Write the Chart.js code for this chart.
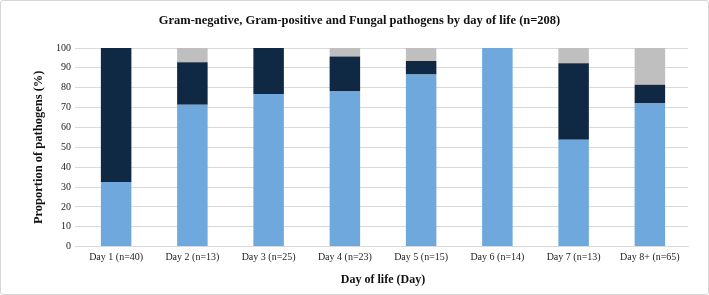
<!DOCTYPE html>
<html>
<head>
<meta charset="utf-8">
<script src="https://cdn.jsdelivr.net/npm/chart.js@4.4.1/dist/chart.umd.min.js"></script>
<style>
    html, body { margin: 0; padding: 0; background: #fff; }
    #wrap { width: 709px; height: 295px; box-sizing: border-box; border: 1px solid #d6d6d6; border-radius: 3px; position: relative; }
    #chart { display: block; }
</style>
</head>
<body>
<div id="wrap"><canvas id="chart" width="707" height="293"></canvas></div>
<script>
// data (percent of pathogens per day)
const days = ['Day 1 (n=40)', 'Day 2 (n=13)', 'Day 3 (n=25)', 'Day 4 (n=23)', 'Day 5 (n=15)', 'Day 6 (n=14)', 'Day 7 (n=13)', 'Day 8+ (n=65)'];
const gramNegative = [32.5, 71.4, 76.8, 78.3, 86.7, 100, 53.8, 72.3];
const gramPositive = [67.5, 21.4, 23.2, 17.4, 6.7, 0, 38.5, 9.2];
const fungal = [0, 7.2, 0, 4.3, 6.6, 0, 7.7, 18.5];
const yTicks = [0, 10, 20, 30, 40, 50, 60, 70, 80, 90, 100];

const serif = "'Liberation Serif', 'Times New Roman', serif";

const ctx = document.getElementById('chart');
const chart = new Chart(ctx, {
    type: 'bar',
    data: {
        labels: days,
        datasets: [
            {
                label: 'Gram-negative',
                data: gramNegative,
                backgroundColor: '#6fa8dc'
            },
            {
                label: 'Gram-positive',
                data: gramPositive,
                backgroundColor: '#0f2844'
            },
            {
                label: 'Fungal',
                data: fungal,
                backgroundColor: '#bfbfbf'
            }
        ]
    },
    options: {
        responsive: false,
        animation: false,
        layout: {
            padding: { left: 30, right: 20, top: 6, bottom: 7 }
        },
        datasets: {
            bar: {
                barPercentage: 0.4,
                categoryPercentage: 1.0
            }
        },
        plugins: {
            legend: { display: false },
            tooltip: { enabled: false },
            title: {
                display: true,
                text: 'Gram-negative, Gram-positive and Fungal pathogens by day of life (n=208)',
                color: '#111',
                font: { family: serif, size: 12.5, weight: 'bold' },
                padding: { top: 6, bottom: 20 }
            }
        },
        scales: {
            x: {
                stacked: true,
                grid: { display: false, drawTicks: false },
                border: { color: '#d9d9d9' },
                ticks: {
                    color: '#222',
                    font: { family: serif, size: 10 },
                    padding: 5,
                    maxRotation: 0
                },
                title: {
                    display: true,
                    text: 'Day of life (Day)',
                    color: '#111',
                    font: { family: serif, size: 12, weight: 'bold' },
                    padding: { top: 4, bottom: 0 }
                }
            },
            y: {
                stacked: true,
                min: 0,
                max: 100,
                afterBuildTicks: axis => {
                    axis.ticks = yTicks.map(v => ({ value: v }));
                },
                grid: { color: '#d9d9d9', tickLength: 3, drawTicks: true },
                border: { display: false },
                ticks: {
                    color: '#222',
                    font: { family: serif, size: 10 },
                    padding: 4
                },
                title: {
                    display: true,
                    text: 'Proportion of pathogens (%)',
                    color: '#111',
                    font: { family: serif, size: 12.5, weight: 'bold' },
                    padding: { top: 0, bottom: 6 }
                }
            }
        }
    }
});
</script>
</body>
</html>
